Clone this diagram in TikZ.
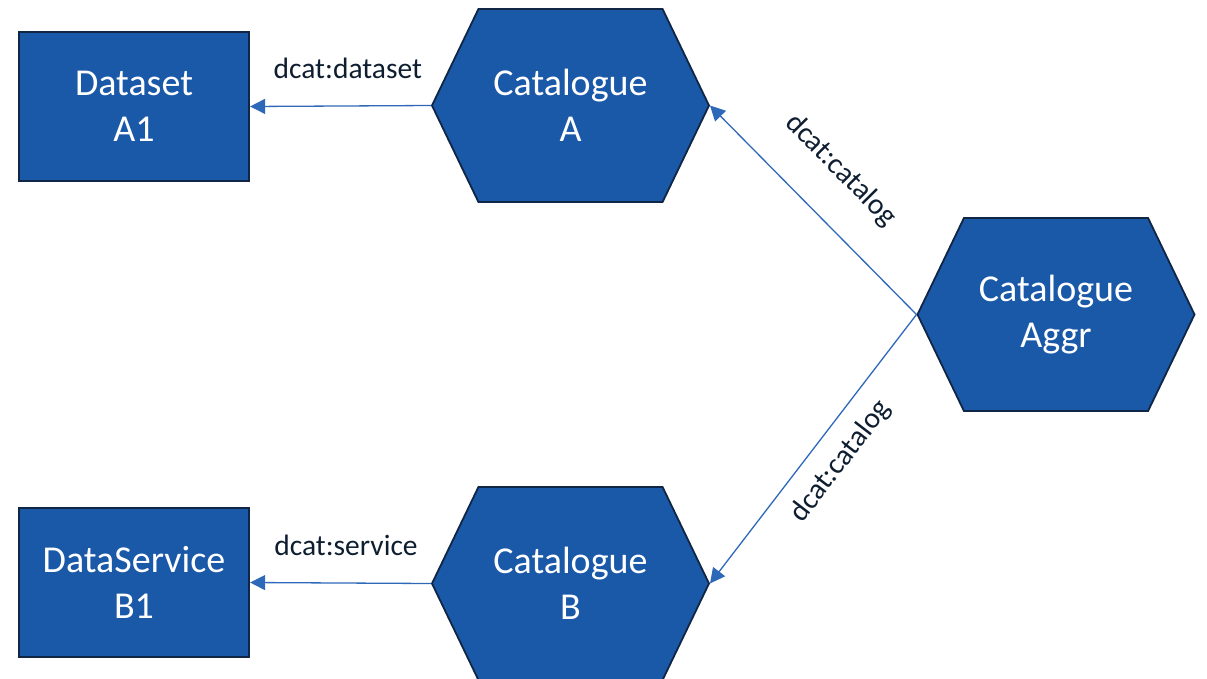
\documentclass[tikz,border=0pt]{standalone}
\usepackage{fontspec}
\setmainfont{Carlito}
\usetikzlibrary{shapes.symbols,arrows.meta}
\definecolor{boxblue}{RGB}{26,88,168}
\definecolor{edgenavy}{RGB}{16,38,68}
\definecolor{linkblue}{RGB}{46,104,184}
\definecolor{labelink}{RGB}{14,30,48}

\begin{document}
\begin{tikzpicture}[x=1pt, y=-1pt,
    entity/.style={draw=edgenavy, line width=2.2pt, fill=boxblue, text=white,
      minimum width=230pt, minimum height=149pt, align=center, inner sep=0pt,
      font=\fontsize{38}{46.5}\selectfont},
    catalogue/.style={entity, shape=signal, signal to=west and east,
      signal pointer angle=128.6, minimum width=277pt, minimum height=193pt,
      line width=1.8pt},
    link/.style={draw=linkblue, line width=1.3pt, -{Triangle[length=15pt,width=15pt]}},
    prop/.style={text=labelink, inner sep=0pt, font=\fontsize{29.5}{35}\selectfont}]
    \useasboundingbox (0,0) rectangle (1207,678);
    \node[entity] (datasetA1) at (134,106.5) {Dataset\\A1};
    \node[entity] (serviceB1) at (134,582.5) {DataService\\B1};
    \node[catalogue] (catA) at (570.5,105.5) {Catalogue\\A};
    \node[catalogue] (catB) at (570.5,583.5) {Catalogue\\B};
    \node[catalogue] (catAggr) at (1056,314.5) {Catalogue\\Aggr};
    \draw[link] (catA.west) -- node[prop, pos=0.46, above=27pt] {dcat:dataset} (datasetA1.east);
    \draw[link] (catB.west) -- node[prop, pos=0.47, above=27pt] {dcat:service} (serviceB1.east);
    \draw[link] (catAggr.west) -- node[prop, sloped, pos=0.53, above=34pt] {dcat:catalog} (catA.east);
    \draw[link] (catAggr.west) -- node[prop, sloped, pos=0.48, below=16pt] {dcat:catalog} (catB.east);
\end{tikzpicture}
\end{document}
